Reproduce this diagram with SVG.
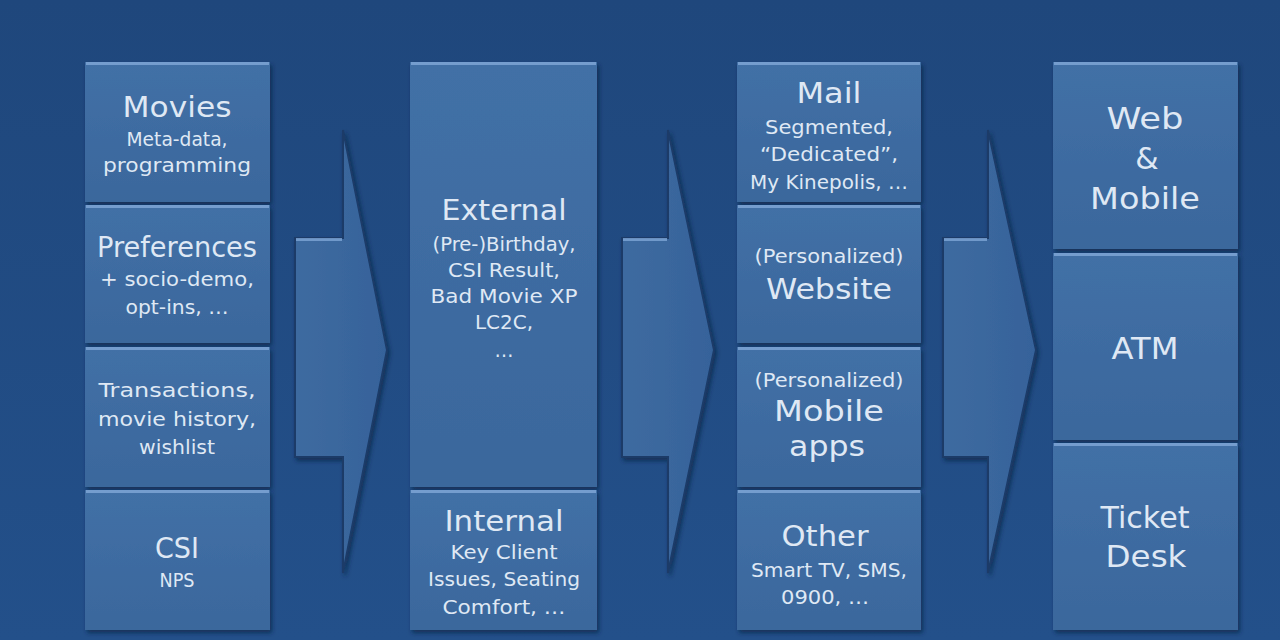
<svg xmlns="http://www.w3.org/2000/svg" width="1280" height="640" viewBox="0 0 1280 640">
<defs>
<linearGradient id="bg" x1="0" y1="0" x2="0" y2="1">
<stop offset="0" stop-color="#1f477c"/>
<stop offset="1" stop-color="#23508a"/>
</linearGradient>
<linearGradient id="boxg" x1="0" y1="0" x2="0" y2="1">
<stop offset="0" stop-color="#4270a6"/>
<stop offset="1" stop-color="#3a679c"/>
</linearGradient>
<linearGradient id="arrg" x1="0" y1="0" x2="1" y2="0">
<stop offset="0" stop-color="#3e6ba0"/>
<stop offset="1" stop-color="#36629a"/>
</linearGradient>
<filter id="sh" x="-10%" y="-10%" width="130%" height="130%">
<feGaussianBlur in="SourceAlpha" stdDeviation="2"/>
<feOffset dx="2" dy="3" result="b"/>
<feFlood flood-color="#0d2545" flood-opacity="0.7"/>
<feComposite in2="b" operator="in"/>
<feMerge><feMergeNode/><feMergeNode in="SourceGraphic"/></feMerge>
</filter>
</defs>
<style>
.box{fill:url(#boxg);filter:url(#sh)}
.hl{stroke:#7ea6d6;stroke-width:3;opacity:0.85}
.arrow{fill:url(#arrg);stroke:#1a3b68;stroke-width:2;stroke-linejoin:miter;filter:url(#sh)}
.ahl{stroke:#7ea6d6;stroke-width:3;opacity:0.8}
text{font-family:"DejaVu Sans","Liberation Sans",sans-serif;fill:#dfe8f4;text-anchor:middle}
.t{font-size:28px}
.s{font-size:19px}
.b{font-size:30px}
</style>
<rect width="1280" height="640" fill="url(#bg)"/>

<g id="connectors">
<g id="arrow1">
<path class="arrow" d="M295 238 H343 V130 L387 350 L343 573 V457 H295 Z"/>
<line class="ahl" x1="296" y1="239.5" x2="342" y2="239.5"/>
</g>
<g id="arrow2">
<path class="arrow" d="M622 238 H668 V130 L714 350 L668 573 V457 H622 Z"/>
<line class="ahl" x1="623" y1="239.5" x2="667" y2="239.5"/>
</g>
<g id="arrow3">
<path class="arrow" d="M943 238 H988 V130 L1036 350 L988 573 V457 H943 Z"/>
<line class="ahl" x1="944" y1="239.5" x2="987" y2="239.5"/>
</g>
</g>

<!-- Column 1 -->
<g id="movies">
<rect class="box" x="85" y="62" width="185" height="140"/>
<line class="hl" x1="86" y1="63.5" x2="269" y2="63.5"/>
<text class="t" x="177" y="117" textLength="109" lengthAdjust="spacingAndGlyphs">Movies</text>
<text class="s" x="177" y="146" textLength="101" lengthAdjust="spacingAndGlyphs">Meta-data,</text>
<text class="s" x="177" y="172" textLength="148" lengthAdjust="spacingAndGlyphs">programming</text>
</g>
<g id="preferences">
<rect class="box" x="85" y="205" width="185" height="138"/>
<line class="hl" x1="86" y1="206.5" x2="269" y2="206.5"/>
<text class="t" x="177" y="257" textLength="160" lengthAdjust="spacingAndGlyphs">Preferences</text>
<text class="s" x="177" y="286" textLength="154" lengthAdjust="spacingAndGlyphs">+ socio-demo,</text>
<text class="s" x="177" y="314" textLength="103" lengthAdjust="spacingAndGlyphs">opt-ins, …</text>
</g>
<g id="transactions">
<rect class="box" x="85" y="347" width="185" height="140"/>
<line class="hl" x1="86" y1="348.5" x2="269" y2="348.5"/>
<text class="s" x="177" y="397" textLength="157" lengthAdjust="spacingAndGlyphs">Transactions,</text>
<text class="s" x="177" y="426" textLength="158" lengthAdjust="spacingAndGlyphs">movie history,</text>
<text class="s" x="177" y="454" textLength="76" lengthAdjust="spacingAndGlyphs">wishlist</text>
</g>
<g id="csi">
<rect class="box" x="85" y="490" width="185" height="140"/>
<line class="hl" x1="86" y1="491.5" x2="269" y2="491.5"/>
<text class="t" x="177" y="558" textLength="44" lengthAdjust="spacingAndGlyphs">CSI</text>
<text class="s" x="177" y="587" textLength="35" lengthAdjust="spacingAndGlyphs">NPS</text>
</g>

<!-- Column 2 -->
<g id="external">
<rect class="box" x="410" y="62" width="187" height="425"/>
<line class="hl" x1="411" y1="63.5" x2="596" y2="63.5"/>
<text class="t" x="504" y="220" textLength="125" lengthAdjust="spacingAndGlyphs">External</text>
<text class="s" x="504" y="251" textLength="143" lengthAdjust="spacingAndGlyphs">(Pre-)Birthday,</text>
<text class="s" x="504" y="277" textLength="112" lengthAdjust="spacingAndGlyphs">CSI Result,</text>
<text class="s" x="504" y="303" textLength="147" lengthAdjust="spacingAndGlyphs">Bad Movie XP</text>
<text class="s" x="504" y="329" textLength="58" lengthAdjust="spacingAndGlyphs">LC2C,</text>
<text class="s" x="504" y="357">…</text>
</g>
<g id="internal">
<rect class="box" x="410" y="490" width="187" height="140"/>
<line class="hl" x1="411" y1="491.5" x2="596" y2="491.5"/>
<text class="t" x="504" y="531" textLength="119" lengthAdjust="spacingAndGlyphs">Internal</text>
<text class="s" x="504" y="559" textLength="107" lengthAdjust="spacingAndGlyphs">Key Client</text>
<text class="s" x="504" y="586" textLength="152" lengthAdjust="spacingAndGlyphs">Issues, Seating</text>
<text class="s" x="504" y="614" textLength="123" lengthAdjust="spacingAndGlyphs">Comfort, …</text>
</g>

<!-- Column 3 -->
<g id="mail">
<rect class="box" x="737" y="62" width="184" height="140"/>
<line class="hl" x1="738" y1="63.5" x2="920" y2="63.5"/>
<text class="t" x="829" y="103" textLength="65" lengthAdjust="spacingAndGlyphs">Mail</text>
<text class="s" x="829" y="134" textLength="128" lengthAdjust="spacingAndGlyphs">Segmented,</text>
<text class="s" x="829" y="161" textLength="138" lengthAdjust="spacingAndGlyphs">“Dedicated”,</text>
<text class="s" x="829" y="189" textLength="158" lengthAdjust="spacingAndGlyphs">My Kinepolis, …</text>
</g>
<g id="website">
<rect class="box" x="737" y="205" width="184" height="138"/>
<line class="hl" x1="738" y1="206.5" x2="920" y2="206.5"/>
<text class="s" x="829" y="263" textLength="149" lengthAdjust="spacingAndGlyphs">(Personalized)</text>
<text class="t" x="829" y="299" textLength="126" lengthAdjust="spacingAndGlyphs">Website</text>
</g>
<g id="mobileapps">
<rect class="box" x="737" y="347" width="184" height="140"/>
<line class="hl" x1="738" y1="348.5" x2="920" y2="348.5"/>
<text class="s" x="829" y="387" textLength="149" lengthAdjust="spacingAndGlyphs">(Personalized)</text>
<text class="t" x="829" y="421" textLength="110" lengthAdjust="spacingAndGlyphs">Mobile</text>
<text class="t" x="827" y="456" textLength="76" lengthAdjust="spacingAndGlyphs">apps</text>
</g>
<g id="other">
<rect class="box" x="737" y="490" width="184" height="140"/>
<line class="hl" x1="738" y1="491.5" x2="920" y2="491.5"/>
<text class="t" x="825" y="546" textLength="87" lengthAdjust="spacingAndGlyphs">Other</text>
<text class="s" x="829" y="577" textLength="156" lengthAdjust="spacingAndGlyphs">Smart TV, SMS,</text>
<text class="s" x="825" y="604" textLength="88" lengthAdjust="spacingAndGlyphs">0900, …</text>
</g>

<!-- Column 4 -->
<g id="webmobile">
<rect class="box" x="1053" y="62" width="185" height="187"/>
<line class="hl" x1="1054" y1="63.5" x2="1237" y2="63.5"/>
<text class="b" x="1145" y="129" textLength="77" lengthAdjust="spacingAndGlyphs">Web</text>
<text class="b" x="1147" y="169">&amp;</text>
<text class="b" x="1145" y="209" textLength="110" lengthAdjust="spacingAndGlyphs">Mobile</text>
</g>
<g id="atm">
<rect class="box" x="1053" y="253" width="185" height="187"/>
<line class="hl" x1="1054" y1="254.5" x2="1237" y2="254.5"/>
<text class="b" x="1145" y="359" textLength="67" lengthAdjust="spacingAndGlyphs">ATM</text>
</g>
<g id="ticketdesk">
<rect class="box" x="1053" y="443" width="185" height="187"/>
<line class="hl" x1="1054" y1="444.5" x2="1237" y2="444.5"/>
<text class="b" x="1145" y="528" textLength="89" lengthAdjust="spacingAndGlyphs">Ticket</text>
<text class="b" x="1146" y="567" textLength="81" lengthAdjust="spacingAndGlyphs">Desk</text>
</g>
</svg>
